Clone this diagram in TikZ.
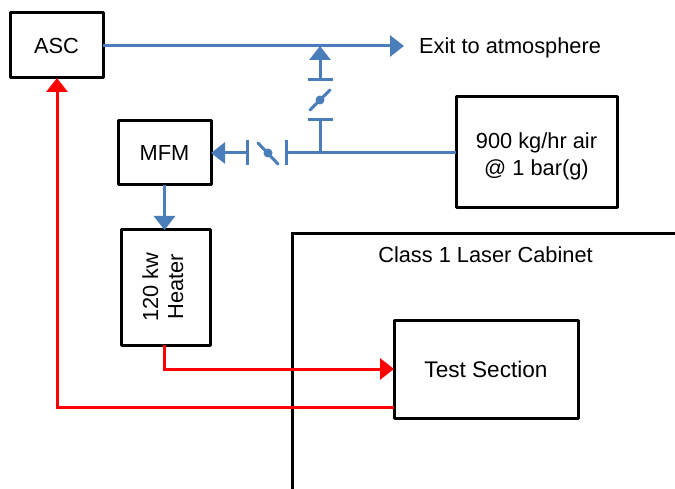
\documentclass[tikz,border=0pt]{standalone}
\usepackage{fontspec}
\setmainfont{Liberation Sans}
\usetikzlibrary{arrows.meta,positioning}
\definecolor{flowblue}{HTML}{4A7EBB}
\tikzset{
  x=1pt,y=-1pt,
  box/.style={draw=black,line width=3pt,fill=white,outer sep=0pt,inner sep=0pt,align=center,font=\fontsize{21.8}{26}\selectfont,line join=round},
  air/.style={draw=flowblue,line width=3pt},
  airflow/.style={air,-{Triangle[length=14pt,width=21pt]}},
  hot/.style={draw=red,line width=3pt},
  hotflow/.style={hot,-{Triangle[length=14pt,width=21pt]}},
  tick/.style={draw=flowblue,line width=3pt},
  lever/.style={draw=flowblue,line width=3pt,line cap=round},
  pivot/.style={circle,fill=flowblue,inner sep=0pt,minimum size=9pt},
  label/.style={font=\fontsize{21.8}{26}\selectfont,inner sep=0pt}
}
\begin{document}
\begin{tikzpicture}
\useasboundingbox (0,0) rectangle (675,489);
% cabinet
\draw[black,line width=3pt] (292,489) -- (292,233.5) -- (675,233.5);
\node[label] (cab) at (485.5,255) {Class 1 Laser Cabinet};
% boxes
\node[box,minimum width=93pt,minimum height=65pt] (asc) at (56.5,45.5) {ASC};
\node[box,minimum width=93pt,minimum height=64pt] (mfm) at (164.5,153) {MFM};
\node[box,minimum width=89pt,minimum height=115pt] (heater) at (165.5,287.5) {\raisebox{1pt}{\rotatebox{90}{\begin{tabular}{@{}c@{}}120 kw\\[-1pt]Heater\end{tabular}}}};
\node[box,minimum width=161pt,minimum height=111pt] (air) at (536.5,152.5) {\rule{0pt}{23pt}900 kg/hr air\\[1pt]@ 1 bar(g)};
\node[box,minimum width=184pt,minimum height=98pt] (test) at (486,369) {\raisebox{-1pt}{\fontsize{22.6}{26}\selectfont Test Section}};
\node[label,anchor=west] (exit) at (419,47.5) {Exit to atmosphere};
% junctions
\coordinate (exitend) at (404,46);
\coordinate (topj) at (320,46);
\coordinate (vbar1) at (320,80);
\coordinate (vbar2) at (320,119.5);
\coordinate (airj) at (320,153);
\coordinate (hbar1) at (286.5,153);
\coordinate (hbar2) at (247.5,153);
\coordinate (hotcorner) at (164,369);
\coordinate (testin) at (394,369);
\coordinate (testout) at (394,407);
\coordinate (asccorner) at (57,407);
% blue lines
\draw[airflow] (asc.east |- exitend) -- (exitend);
\draw[airflow] (vbar1) -- (topj);
\draw[tick] ([xshift=-12.5pt]vbar1) -- ([xshift=12.5pt]vbar1);
\draw[lever] (310,110) -- (330,90);
\node[pivot] (v1) at (320,100) {};
\draw[tick] ([xshift=-12.5pt]vbar2) -- ([xshift=12.5pt]vbar2);
\draw[air] (vbar2) -- (airj);
\draw[air] (air.west |- airj) -- (hbar1);
\draw[tick] ([yshift=-12.5pt]hbar1) -- ([yshift=12.5pt]hbar1);
\draw[lever] (258,143) -- (278,164);
\node[pivot] (v2) at (268,153) {};
\draw[tick] ([yshift=-12.5pt]hbar2) -- ([yshift=12.5pt]hbar2);
\draw[airflow] (hbar2) -- (mfm.east);
\draw[airflow] (mfm.south) -- (heater.north -| mfm.south);
% red lines
\draw[hotflow] (heater.south -| hotcorner) -- (hotcorner) -- (testin);
\draw[hotflow] (testout) -- (asccorner) -- (asc.south -| asccorner);
\end{tikzpicture}
\end{document}
